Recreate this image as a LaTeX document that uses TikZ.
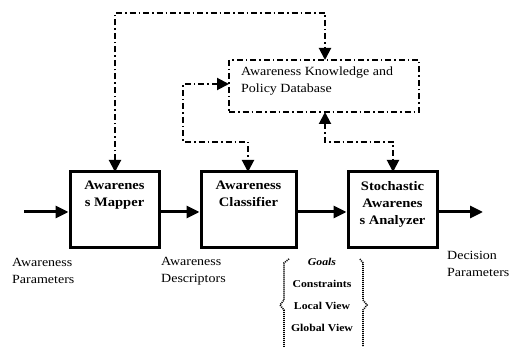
\documentclass[tikz,border=0pt]{standalone}
\usepackage{fontspec}
\setmainfont[FakeStretch=1.12]{Liberation Serif}
\usetikzlibrary{arrows.meta}
\begin{document}
\begin{tikzpicture}[x=1pt,y=-1pt,
  blockbox/.style={draw, line width=3pt, minimum width=89pt, minimum height=76pt, inner sep=0pt},
  blocktext/.style={font=\fontsize{13}{17}\selectfont\bfseries, align=center, anchor=north, inner sep=0pt},
  flow/.style={line width=3pt, -{Triangle[length=13pt,width=12pt]}},
  ddash/.style={line width=2pt, dash pattern=on 6pt off 3pt on 1.5pt off 3pt},
  ddarrow/.style={ddash, {Triangle[length=12pt,width=12pt]}-{Triangle[length=12pt,width=12pt]}},
  lbl/.style={font=\fontsize{12.5}{17}\selectfont, align=left, anchor=west, inner sep=0pt},
  brtext/.style={font=\fontsize{10.5}{12}\selectfont\bfseries, inner sep=0pt},
  brace/.style={line width=1.6pt, dash pattern=on 1pt off 1pt}
]
\useasboundingbox (0,0) rectangle (512,347);

% database
\node[ddash, line width=2.4pt, draw, minimum width=190pt, minimum height=52pt, inner sep=0pt] (db) at (324,86) {};
\node[font=\fontsize{12.5}{17}\selectfont, align=left, anchor=west, inner sep=0pt] (dbt) at (241,81.5) {Awareness Knowledge and\\Policy Database};

% blocks
\node[blockbox] (mapper) at (114.5,210) {};
\node[blockbox, minimum width=95pt] (classifier) at (248.5,210) {};
\node[blockbox] (analyzer) at (392.5,210) {};
\node[blocktext] (mt) at (114.5,181) {Awarenes\\s Mapper};
\node[blocktext] (ct) at (248.5,181) {Awareness\\Classifier};
\node[blocktext] (at) at (392.5,181) {Stochastic\\Awarenes\\s Analyzer};

% main flow
\coordinate (in) at (24,212);
\coordinate (out) at (483,212);
\draw[flow] (in) -- (mapper.west |- in);
\draw[flow] (mapper.east |- in) -- (classifier.west |- in);
\draw[flow] (classifier.east |- in) -- (analyzer.west |- in);
\draw[flow] (analyzer.east |- in) -- (out);

% feedback loops
\draw[ddarrow] (115,172) -- (115,13) -- (325,13) -- (325,60);
\draw[ddarrow] (229,84) -- (183,84) -- (183,142) -- (248,142) -- (248,172);
\draw[ddarrow] (325,112) -- (325,142) -- (393,142) -- (393,172);

% labels
\node[lbl] (ap) at (12,271) {Awareness\\Parameters};
\node[lbl] (ad) at (161,271) {Awareness\\Descriptors};
\node[lbl] (dp) at (447,264) {Decision\\Parameters};

% brace contents
\node[brtext, font=\fontsize{10.5}{12}\selectfont\bfseries\itshape] (goals) at (322,262) {Goals};
\node[brtext] (cons) at (322,284) {Constraints};
\node[brtext] (lv) at (322,306) {Local View};
\node[brtext] (gv) at (322,328) {Global View};

% braces
\draw[brace] (289,259) -- (284,263) -- (284,300) -- (280,305) -- (284,310) -- (284,347);
\draw[brace] (360,259) -- (363,263) -- (363,300) -- (367,305) -- (363,310) -- (363,347);
\end{tikzpicture}
\end{document}
